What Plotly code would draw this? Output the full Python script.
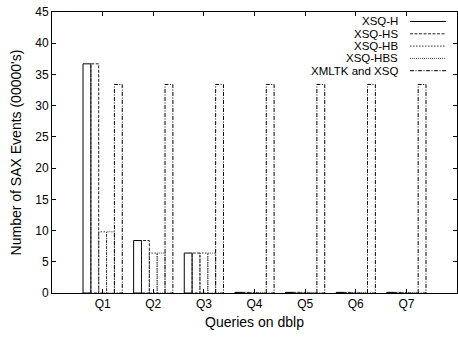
import plotly.graph_objects as go

# Queries and SAX event counts (in units of 00000's)
queries = ["Q1", "Q2", "Q3", "Q4", "Q5", "Q6", "Q7"]
xsq_h = [36.7, 8.4, 6.4, 0.1, 0.1, 0.1, 0.1]
xsq_hs = [36.7, 8.4, 6.4, 0.1, 0.1, 0.1, 0.1]
xsq_hb = [9.8, 6.4, 6.4, 0.1, 0.1, 0.1, 0.1]
xsq_hbs = [9.8, 6.4, 6.4, 0.1, 0.1, 0.1, 0.1]
xmltk_xsq = [33.4, 33.4, 33.4, 33.4, 33.4, 33.4, 33.4]

series = [
    ("XSQ-H", xsq_h, "solid", "#000000"),
    ("XSQ-HS", xsq_hs, "3px,1.5px", "#222222"),
    ("XSQ-HB", xsq_hb, "1.5px,1.5px", "#333333"),
    ("XSQ-HBS", xsq_hbs, "1px,1px", "#444444"),
    ("XMLTK and XSQ", xmltk_xsq, "4px,1.5px,1px,1.5px", "#000000"),
]

FONT = "Liberation Sans, Arial, Helvetica, sans-serif"
box_w = 0.155  # width of one box in a cluster (category units)
n = len(series)

fig = go.Figure()

# Each box is an outlined rectangle so it can carry its own dash pattern
for i, (name, vals, dash, color) in enumerate(series):
    xs, ys = [], []
    for k, v in enumerate(vals):
        c = k + (i - (n - 1) / 2) * box_w
        x0, x1 = c - box_w / 2, c + box_w / 2
        xs += [x0, x0, x1, x1, x0, None]
        ys += [0, v, v, 0, 0, None]
    fig.add_trace(go.Scatter(
        x=xs, y=ys, mode="lines", name=name, showlegend=False,
        line=dict(color=color, width=1, dash=dash),
        hoverinfo="skip",
    ))

# Key in the upper right: label text followed by a line sample
key_top = 21.5
key_step = 12.3
plot_top, plot_bottom = 12, 293
for i, (name, vals, dash, color) in enumerate(series):
    py = key_top + i * key_step
    yp = (plot_bottom - py) / (plot_bottom - plot_top)
    fig.add_annotation(
        x=0.857, y=yp, xref="paper", yref="paper", text=name,
        showarrow=False, xanchor="right", yanchor="middle", borderpad=0,
        font=dict(family=FONT, size=11.5, color="#000000"),
    )
    fig.add_shape(
        type="line", xref="paper", yref="paper",
        x0=0.884, x1=0.973, y0=yp, y1=yp,
        line=dict(color=color, width=1, dash=dash),
    )

fig.update_layout(
    width=458, height=339,
    margin=dict(l=52, r=1, t=12, b=46),
    paper_bgcolor="white", plot_bgcolor="white",
    font=dict(family=FONT, size=12, color="#000000"),
    xaxis=dict(
        range=[-1, 7],
        tickmode="array", tickvals=list(range(len(queries))), ticktext=queries,
        ticks="inside", ticklen=4, tickwidth=1, tickcolor="#000000",
        showline=True, linecolor="#000000", linewidth=1, mirror="ticks",
        showgrid=False, zeroline=False,
        title=dict(text="Queries on dblp", standoff=6),
    ),
    yaxis=dict(
        range=[0, 45], dtick=5, tick0=0,
        ticks="inside", ticklen=4, tickwidth=1, tickcolor="#000000",
        showline=True, linecolor="#000000", linewidth=1, mirror="ticks",
        showgrid=False, zeroline=False,
        title=dict(text="Number of SAX Events (00000's)", standoff=10),
    ),
)

fig.write_html("out.html")
